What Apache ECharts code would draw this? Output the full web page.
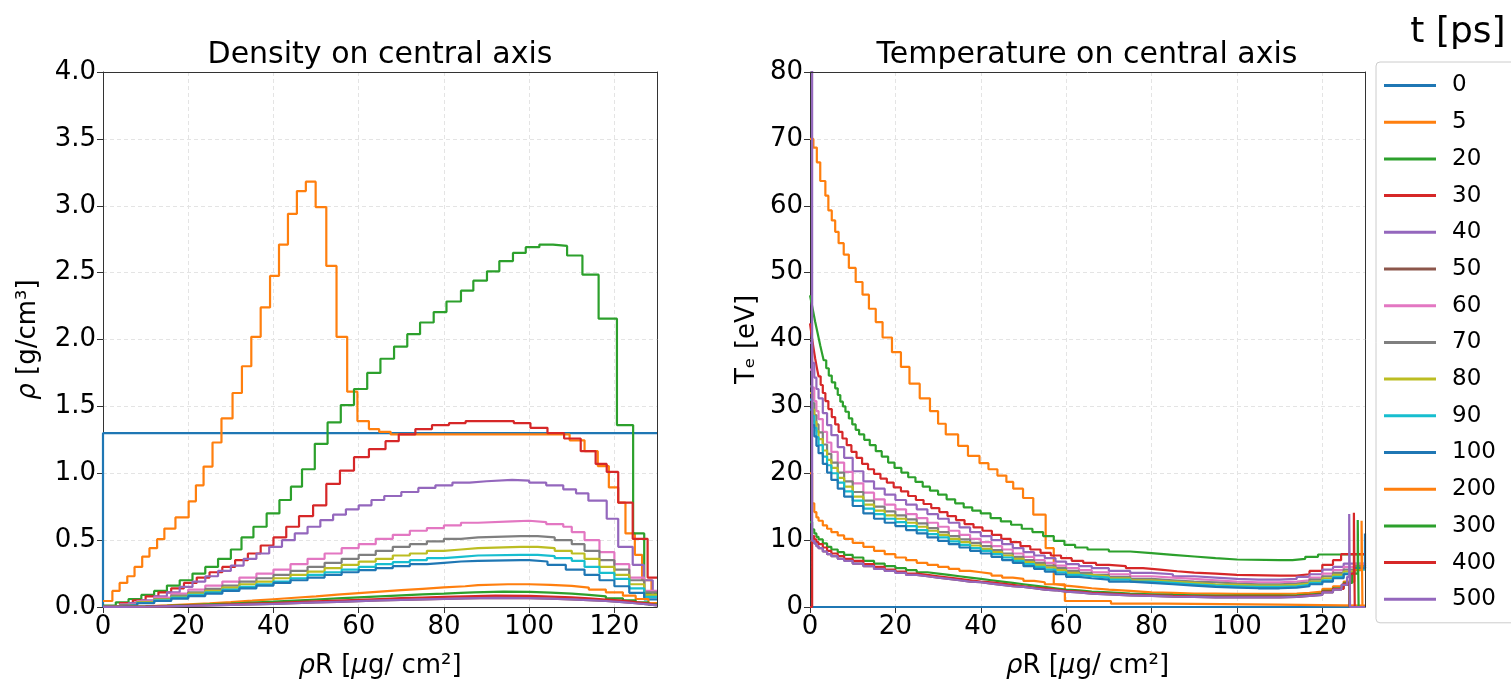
<!DOCTYPE html>
<html><head><meta charset="utf-8">
<script src="https://cdn.jsdelivr.net/npm/echarts@6.0.0/dist/echarts.min.js"></script>
<style>html,body{margin:0;padding:0;background:#fff}#c{width:1511px;height:686px}</style>
</head><body><div id="c"></div><script>
// ---- labels ----
const times = ['0','5','20','30','40','50','60','70','80','90','100','200','300','400','500'];
const xTicks = [0,20,40,60,80,100,120];

// ---- density on central axis: [rhoR, rho] zone start points ----
const rho0 = [[0,0],[0,1.3],[130,1.3]];
const rho5 = [[0,0.045],[2.2,0.12],[3.9,0.18],[5.7,0.23],[7.4,0.30],[9.2,0.377],[10.9,0.44],[12.7,0.507],[14.4,0.586],[17.0,0.67],[20.1,0.79],[21.8,0.91],[23.6,1.05],[25.7,1.23],[27.8,1.41],[30.4,1.60],[32.6,1.80],[34.8,2.02],[37.0,2.24],[39.2,2.475],[41.3,2.71],[43.4,2.94],[45.5,3.11],[47.6,3.18],[49.9,2.99],[52.4,2.55],[54.8,2.02],[57.3,1.61],[59.7,1.39],[62.4,1.33],[64.8,1.31],[67.5,1.29],[109.5,1.246],[113.0,1.165],[116.1,1.054],[118.7,0.894],[120.9,0.78],[122.6,0.55],[124.8,0.39],[126.5,0.2],[128.7,0.08],[130,0.08]];
const rho20 = [[0,0.01],[3,0.035],[6,0.06],[9,0.09],[12,0.12],[15,0.16],[18,0.2],[21,0.25],[24,0.3],[27,0.36],[30,0.43],[32.5,0.52],[35.3,0.6],[38.4,0.7],[41.4,0.8],[44.1,0.9],[46.7,1.03],[49.7,1.22],[52.7,1.38],[55.8,1.51],[58.9,1.63],[62.0,1.75],[65.1,1.856],[68.3,1.947],[71.4,2.04],[74.4,2.127],[77.6,2.205],[80.6,2.284],[84.0,2.365],[86.9,2.44],[90.1,2.51],[93.0,2.586],[96.2,2.647],[99.2,2.69],[102.4,2.71],[105.6,2.70],[108.9,2.628],[112.5,2.485],[116.3,2.156],[120.6,1.36],[124.4,0.55],[127,0.1],[130,0.1]];
const rho30 = [[0,0.005],[4,0.03],[7,0.05],[10,0.08],[13,0.11],[16,0.14],[19,0.18],[22,0.22],[25,0.26],[28,0.3],[31,0.35],[34,0.4],[37,0.46],[40,0.52],[43,0.6],[46,0.68],[49.3,0.76],[52.4,0.92],[55.6,1.02],[58.9,1.12],[62.4,1.18],[66.3,1.24],[69.4,1.29],[73.3,1.33],[77.2,1.36],[81.2,1.375],[85.1,1.39],[96.4,1.375],[100.3,1.34],[104.3,1.30],[108.2,1.26],[112.1,1.165],[115.6,1.07],[118.2,1.01],[120.9,0.78],[124.3,0.51],[127.8,0.22],[130,0.22]];
const rho40 = [[0,0.003],[3,0.015],[6,0.03],[9,0.05],[12,0.08],[15,0.11],[18,0.15],[21,0.19],[24,0.23],[27,0.27],[30,0.31],[33,0.36],[36,0.4],[39,0.45],[42,0.5],[45,0.55],[48,0.6],[51,0.65],[54,0.69],[57,0.73],[60,0.76],[63,0.8],[66,0.83],[70,0.86],[74,0.89],[78,0.91],[82,0.93],[86,0.94],[90,0.95],[96,0.945],[100,0.93],[104,0.91],[108,0.88],[111,0.85],[113.9,0.795],[118.2,0.66],[120.9,0.45],[124.3,0.315],[126.9,0.2],[129,0.08],[130,0.08]];
const rho50 = [[0,0.001],[5,0.002],[10,0.005],[15,0.008],[20,0.012],[25,0.016],[30,0.02],[35,0.024],[40,0.029],[45,0.034],[50,0.039],[55,0.044],[60,0.049],[65,0.053],[70,0.057],[75,0.061],[80,0.064],[85,0.068],[92,0.066],[100,0.062],[105,0.057],[110,0.051],[114,0.045],[118,0.037],[122,0.028],[125,0.02],[128,0.012],[130,0.012]];
const rho60 = [[0,0.002],[4,0.02],[8,0.045],[12,0.07],[16,0.1],[20,0.13],[24,0.16],[28,0.19],[32,0.22],[36,0.25],[40,0.28],[44,0.32],[48,0.36],[52,0.4],[56,0.44],[60,0.47],[64,0.51],[68,0.54],[72,0.57],[76,0.59],[80,0.61],[84,0.63],[88,0.64],[96,0.645],[100,0.635],[104,0.62],[108,0.6],[110,0.56],[113,0.5],[116.5,0.41],[120,0.32],[123.5,0.22],[127,0.12],[130,0.12]];
const rho70 = [[0,0.002],[4,0.017],[8,0.038],[12,0.06],[16,0.085],[20,0.11],[24,0.135],[28,0.16],[32,0.19],[36,0.215],[40,0.24],[44,0.27],[48,0.3],[52,0.33],[56,0.36],[60,0.39],[64,0.42],[68,0.45],[72,0.47],[76,0.49],[80,0.51],[84,0.52],[88,0.53],[98,0.53],[102,0.52],[106,0.5],[110,0.47],[113,0.42],[116.5,0.35],[120,0.28],[123.5,0.2],[127,0.11],[130,0.11]];
const rho80 = [[0,0.002],[4,0.015],[8,0.034],[12,0.055],[16,0.075],[20,0.1],[24,0.12],[28,0.145],[32,0.17],[36,0.19],[40,0.215],[44,0.24],[48,0.265],[52,0.29],[56,0.315],[60,0.34],[64,0.36],[68,0.385],[72,0.4],[76,0.42],[80,0.43],[84,0.44],[88,0.45],[98,0.45],[102,0.44],[106,0.42],[110,0.4],[113,0.36],[116.5,0.3],[120,0.24],[123.5,0.17],[127,0.09],[130,0.09]];
const rho90 = [[0,0.002],[4,0.014],[8,0.03],[12,0.05],[16,0.07],[20,0.09],[24,0.11],[28,0.13],[32,0.15],[36,0.17],[40,0.19],[44,0.215],[48,0.24],[52,0.26],[56,0.28],[60,0.3],[64,0.32],[68,0.335],[72,0.35],[76,0.365],[80,0.375],[84,0.385],[88,0.39],[98,0.39],[102,0.38],[106,0.365],[110,0.345],[113,0.3],[116.5,0.255],[120,0.21],[123.5,0.14],[127,0.075],[130,0.075]];
const rho100 = [[0,0.002],[4,0.013],[8,0.028],[12,0.045],[16,0.063],[20,0.082],[24,0.1],[28,0.12],[32,0.14],[36,0.16],[40,0.18],[44,0.2],[48,0.22],[52,0.24],[56,0.26],[60,0.275],[64,0.29],[68,0.305],[72,0.32],[76,0.33],[80,0.34],[84,0.345],[88,0.35],[98,0.35],[100,0.34],[104.3,0.315],[108.6,0.28],[113,0.24],[116.5,0.2],[120,0.155],[123.5,0.106],[127,0.057],[130,0.057]];
const rho200 = [[0,0.001],[5,0.005],[10,0.012],[15,0.02],[20,0.028],[25,0.037],[30,0.047],[35,0.058],[40,0.069],[45,0.08],[50,0.092],[55,0.104],[60,0.115],[65,0.126],[70,0.136],[75,0.146],[80,0.155],[85,0.163],[88,0.17],[95,0.17],[100,0.165],[105,0.158],[110,0.145],[114,0.13],[118,0.11],[122,0.085],[125,0.06],[128,0.03],[130,0.03]];
const rho300 = [[0,0.001],[5,0.004],[10,0.009],[15,0.014],[20,0.02],[25,0.026],[30,0.033],[35,0.04],[40,0.048],[45,0.056],[50,0.064],[55,0.072],[60,0.08],[65,0.087],[70,0.094],[75,0.1],[80,0.106],[84,0.11],[87,0.115],[94,0.113],[100,0.108],[105,0.1],[110,0.09],[114,0.08],[118,0.065],[122,0.05],[125,0.035],[128,0.02],[130,0.02]];
const rho400 = [[0,0.001],[5,0.003],[10,0.007],[15,0.011],[20,0.015],[25,0.02],[30,0.025],[35,0.03],[40,0.036],[45,0.042],[50,0.048],[55,0.054],[60,0.06],[65,0.066],[70,0.071],[75,0.076],[80,0.08],[85,0.085],[92,0.083],[100,0.078],[105,0.072],[110,0.064],[114,0.056],[118,0.047],[122,0.036],[125,0.026],[128,0.015],[130,0.015]];
const rho500 = [[0,0.001],[5,0.002],[10,0.005],[15,0.008],[20,0.012],[25,0.016],[30,0.02],[35,0.024],[40,0.029],[45,0.034],[50,0.039],[55,0.044],[60,0.049],[65,0.053],[70,0.057],[75,0.061],[80,0.064],[85,0.068],[92,0.066],[100,0.062],[105,0.057],[110,0.051],[114,0.045],[118,0.037],[122,0.028],[125,0.02],[128,0.012],[130,0.012]];

// ---- temperature on central axis ----
const te0 = [[0,0],[130,0]];
const te5 = [[0,70],[0.8,68.7],[1.6,66.5],[2.4,63.7],[3.6,61.5],[4.3,59.3],[5.1,57.8],[5.9,56.1],[6.7,54.4],[7.9,52.7],[9.1,50.7],[10.7,48.6],[12.3,46.7],[13.8,44.6],[15.4,42.6],[17.0,40.3],[19.2,38.1],[21.3,35.9],[23.3,33.4],[25.7,31.2],[28.1,29.3],[30.0,27.4],[31.8,25.8],[34.7,24.1],[37.0,22.6],[39.7,21.5],[41.8,20.6],[43.9,19.65],[46.0,18.7],[47.6,17.7],[49.9,16.3],[52.3,13.8],[55.2,8.8],[57.1,3.4],[59.7,0.9],[70.5,0.5],[83,0.35],[110,0.2],[130,0.2]];
const te20 = [[0,46.6],[0.4,45.3],[0.8,44],[1.2,42.7],[1.6,41.5],[2.0,40.3],[2.4,39.1],[2.8,38],[3.2,36.9],[3.8,35.7],[4.4,34.6],[5.1,33.6],[5.9,32.7],[6.5,31.7],[7.1,30.7],[7.7,30],[8.3,29.2],[9.1,28.2],[9.9,27.3],[10.7,26.5],[11.5,25.8],[12.7,25],[14,24.2],[15.4,23.3],[16.8,22.5],[18.3,21.6],[19.8,20.8],[21.4,20.1],[23,19.4],[24.7,18.7],[26.4,18],[28.1,17.4],[30,16.8],[32,16.1],[34,15.5],[36,14.9],[38,14.4],[40,14.0],[42.3,13.3],[44.7,12.8],[47.1,12.3],[49.6,11.7],[52.1,11.2],[54.6,10.6],[57.1,9.9],[59.6,9.3],[62.1,8.9],[65,8.6],[70,8.3],[75,8.05],[80,7.8],[85,7.55],[90,7.3],[95,7.1],[100,7.0],[110,7.0],[113,7.2],[116,7.5],[119,7.85],[130,7.85]];
const te30 = [[0,42.4],[0.4,40.5],[0.8,38.8],[1.2,37.2],[1.6,35.8],[2.0,34.5],[2.5,33.2],[3.0,32],[3.6,30.8],[4.3,29.6],[5.1,28.4],[5.9,27.3],[6.7,26.2],[7.6,25.2],[8.6,24.2],[9.7,23.2],[10.9,22.3],[12.2,21.4],[13.6,20.6],[15,19.9],[16.5,19.2],[18,18.6],[19.6,17.9],[21.3,17.3],[23,16.6],[24.8,16],[26.6,15.4],[28.4,14.8],[30.3,14.2],[32.2,13.6],[34.2,13],[36.2,12.4],[38.3,11.9],[40.4,11.4],[42.6,10.8],[44.8,10.2],[47,9.7],[49.3,9.1],[51.6,8.6],[54,8.1],[56.4,7.7],[58.8,7.3],[61.3,6.9],[64,6.6],[67,6.3],[70,6.1],[74,5.8],[78,5.6],[82,5.35],[86,5.15],[90,5.0],[95,4.8],[100,4.7],[110,4.7],[114,4.9],[117,5.4],[120,6.3],[122.5,7.0],[124.4,7.9],[130,7.9]];
// shared zone positions for the middle group (40-100 ps)
const TX = [0,0.5,1,1.5,2,3,4,5,6.5,8,10,12.5,15,17.5,20,22.5,25,27.5,30,32.5,35,37.5,40,42.5,45,47.5,50,52.5,55,57.5,60,63,66,70,75,80,85,90,95,100,105,110,114,117,120,122.5,125,127.5,130];
const te40v  = [39.5,36.5,34.3,32.6,31.2,29.0,27.2,25.7,23.9,22.3,20.3,18.8,17.7,16.8,16.0,15.3,14.6,13.9,13.2,12.6,11.9,11.2,10.6,10.0,9.4,8.8,8.2,7.7,7.3,6.8,6.4,6.1,5.8,5.4,5.1,4.9,4.6,4.4,4.2,4.1,4.1,4.2,4.5,4.9,5.6,6.0,6.5,6.5,6.5];
const te60v  = [35.5,32.8,30.8,29.3,28.1,26.2,24.6,23.2,21.6,20.2,18.5,17.1,16.1,15.3,14.6,13.9,13.3,12.6,12.0,11.4,10.8,10.2,9.7,9.1,8.6,8.0,7.5,7.0,6.6,6.2,5.8,5.5,5.2,4.9,4.6,4.4,4.2,4.0,3.8,3.7,3.7,3.8,4.0,4.4,5.0,5.5,6.0,6.4,6.6];
const te70v  = [33.0,30.5,28.7,27.3,26.1,24.3,22.9,21.6,20.1,18.8,17.2,15.9,15.0,14.3,13.7,13.1,12.5,11.8,11.2,10.6,10.1,9.6,9.1,8.5,8.0,7.5,7.0,6.6,6.2,5.8,5.4,5.1,4.8,4.5,4.2,4.0,3.8,3.7,3.5,3.4,3.4,3.5,3.7,4.1,4.6,5.1,5.6,6.1,6.3];
const te80v  = [32.0,29.5,27.7,26.3,25.1,23.4,22.0,20.8,19.3,18.0,16.5,15.3,14.4,13.7,13.2,12.6,12.0,11.4,10.8,10.2,9.7,9.2,8.7,8.2,7.7,7.2,6.7,6.3,5.9,5.5,5.1,4.8,4.6,4.3,4.0,3.8,3.6,3.4,3.3,3.2,3.2,3.3,3.5,3.8,4.3,4.8,5.3,5.8,6.0];
const te90v  = [31.0,28.6,26.8,25.4,24.2,22.5,21.2,20.0,18.6,17.3,15.9,14.7,13.9,13.2,12.7,12.1,11.5,10.9,10.4,9.8,9.3,8.8,8.4,7.9,7.4,6.9,6.4,6.0,5.6,5.2,4.8,4.6,4.4,4.1,3.8,3.6,3.4,3.2,3.1,3.0,3.0,3.1,3.3,3.6,4.0,4.5,5.0,5.6,6.0];
const te100v = [29.5,27.2,25.5,24.1,23.0,21.4,20.1,19.0,17.7,16.5,15.1,14.0,13.2,12.6,12.1,11.5,11.0,10.4,9.9,9.4,8.9,8.4,8.0,7.5,7.0,6.6,6.1,5.7,5.3,4.9,4.5,4.3,4.1,3.8,3.6,3.4,3.2,3.0,2.9,2.8,2.8,2.9,3.1,3.4,3.8,4.3,4.9,5.8,11.0];
// late times (50, 200-500 ps): body on TX up to 122.5, plus outer-edge tails
const te50v  = [9.9,9.9,9.5,9.1,8.8,8.3,7.9,7.6,7.2,6.9,6.5,6.1,5.7,5.4,5.1,4.8,4.6,4.4,4.2,4.0,3.8,3.7,3.5,3.3,3.1,3.0,2.8,2.6,2.5,2.3,2.2,2.0,1.9,1.75,1.65,1.55,1.5,1.45,1.45,1.45,1.45,1.5,1.65,1.8,2.2,2.6];
const te200v = [20.0,15.5,14.2,13.4,12.9,12.2,11.7,11.2,10.7,10.2,9.6,9.0,8.4,7.9,7.4,7.0,6.6,6.3,6.0,5.7,5.4,5.2,5.0,4.7,4.4,4.2,3.9,3.7,3.4,3.2,3.0,2.8,2.6,2.4,2.2,2.1,2.0,2.0,1.95,1.95,1.95,2.0,2.1,2.3,2.7,3.1];
const te300v = [12.7,11.6,11.0,10.5,10.1,9.5,9.0,8.6,8.2,7.8,7.4,6.9,6.5,6.1,5.8,5.5,5.2,5.0,4.8,4.6,4.4,4.2,4.0,3.8,3.6,3.4,3.2,3.0,2.8,2.6,2.5,2.3,2.2,2.0,1.9,1.8,1.75,1.7,1.7,1.7,1.7,1.75,1.85,2.0,2.4,2.8];
const te400v = [0,10.6,10.1,9.7,9.4,8.9,8.4,8.0,7.6,7.2,6.9,6.4,6.0,5.6,5.3,5.0,4.8,4.6,4.4,4.2,4.0,3.8,3.7,3.5,3.3,3.1,2.9,2.8,2.6,2.4,2.3,2.1,2.0,1.85,1.75,1.65,1.6,1.55,1.55,1.55,1.55,1.6,1.75,1.9,2.3,2.7];
const te500v = [95,9.9,9.5,9.1,8.8,8.3,7.9,7.6,7.2,6.9,6.5,6.1,5.7,5.4,5.1,4.8,4.6,4.4,4.2,4.0,3.8,3.7,3.5,3.3,3.1,3.0,2.8,2.6,2.5,2.3,2.2,2.0,1.9,1.75,1.65,1.55,1.5,1.45,1.45,1.45,1.45,1.5,1.65,1.8,2.2,2.6];
const te50tail  = [[124.5,3.3],[126.3,0],[130,0]];
const te200tail = [[125,3.8],[127.5,5.5],[129.2,12.9],[129.4,0],[130,0]];
const te300tail = [[125,3.6],[127,5.0],[128.3,13.0],[128.5,0],[130,0]];
const te400tail = [[125,3.5],[126.5,5.0],[127.4,14.1],[127.6,0],[130,0]];
const te500tail = [[124.5,3.3],[125.8,4.5],[126.3,13.9],[126.5,0],[130,0]];

// ---- styling ----
const palette = ['#1f77b4','#ff7f0e','#2ca02c','#d62728','#9467bd','#8c564b','#e377c2','#7f7f7f','#bcbd22','#17becf','#1f77b4','#ff7f0e','#2ca02c','#d62728','#9467bd'];
const FONT = 'DejaVu Sans';

const zipTX = (vals) => vals.map((v, i) => [TX[i], v]);
const rhoSets = [rho0,rho5,rho20,rho30,rho40,rho50,rho60,rho70,rho80,rho90,rho100,rho200,rho300,rho400,rho500];
const teSets = [te0,te5,te20,te30,zipTX(te40v),zipTX(te50v).concat(te50tail),zipTX(te60v),zipTX(te70v),zipTX(te80v),zipTX(te90v),zipTX(te100v),
  zipTX(te200v).concat(te200tail),zipTX(te300v).concat(te300tail),zipTX(te400v).concat(te400tail),zipTX(te500v).concat(te500tail)];

function mk(name, data, color, gi) {
  return {name, type:'line', step:'end', xAxisIndex:gi, yAxisIndex:gi, data, showSymbol:false, symbol:'none',
    lineStyle:{color, width:2.2}, itemStyle:{color}, silent:true, animation:false, clip:true};
}
const series = [];
times.forEach((t, i) => series.push(mk(t, rhoSets[i], palette[i], 0)));
times.forEach((t, i) => series.push(mk(t, teSets[i], palette[i], 1)));

const TICK_FS = 26, NAME_FS = 26;
const nameStyle = {fontSize:NAME_FS, color:'#000', fontFamily:FONT, rich:{i:{fontStyle:'italic', fontSize:NAME_FS, fontFamily:FONT, color:'#000'}}};
const split = {show:true, lineStyle:{color:'#e4e4e4', type:[4,3], width:1}};
function xAx(gi) {
  return {type:'value', gridIndex:gi, min:0, max:130, interval:20,
    name:'{i|ρ}R [{i|μ}g/ cm²]', nameLocation:'middle', nameGap:46, nameTextStyle:nameStyle,
    axisLine:{show:true, onZero:false, lineStyle:{color:'#333'}},
    axisTick:{show:true, length:6, customValues:xTicks, lineStyle:{color:'#333'}},
    axisLabel:{customValues:xTicks, fontSize:TICK_FS, color:'#000', margin:7, fontFamily:FONT,
      formatter:(v) => (v % 20 === 0 ? String(v) : '')},
    splitLine:split, z:3};
}
function yAx(gi, max, interval, name, gap, fmt) {
  return {type:'value', gridIndex:gi, min:0, max, interval, name, nameLocation:'middle', nameGap:gap, nameTextStyle:nameStyle,
    axisLine:{show:true, onZero:false, lineStyle:{color:'#333'}},
    axisTick:{show:true, length:6, lineStyle:{color:'#333'}},
    axisLabel:{fontSize:TICK_FS, color:'#000', margin:7, fontFamily:FONT, formatter:fmt},
    splitLine:split, z:3};
}
// frame-only axes (top / right edges of each panel)
function frameX(gi) {
  return {type:'value', gridIndex:gi, min:0, max:130, position:'top', axisLine:{show:true, onZero:false, lineStyle:{color:'#333'}},
    axisTick:{show:false}, axisLabel:{show:false}, splitLine:{show:false}, z:4};
}
function frameY(gi, max) {
  return {type:'value', gridIndex:gi, min:0, max, position:'right', axisLine:{show:true, onZero:false, lineStyle:{color:'#333'}},
    axisTick:{show:false}, axisLabel:{show:false}, splitLine:{show:false}, z:4};
}

const option = {
  animation:false,
  backgroundColor:'#fff',
  textStyle:{fontFamily:FONT},
  grid:[
    {left:103, top:72, width:554, height:535, containLabel:false},
    {left:810, top:72, width:555, height:535, containLabel:false}
  ],
  xAxis:[xAx(0), xAx(1), frameX(0), frameX(1)],
  yAxis:[
    yAx(0, 4, 0.5, '{i|ρ} [g/cm³]', 62, (v) => v.toFixed(1)),
    yAx(1, 80, 10, 'Tₑ [eV]', 50, (v) => String(v)),
    frameY(0, 4), frameY(1, 80)
  ],
  legend:{orient:'vertical', left:1376, top:62, data:times, icon:'rect', itemWidth:52, itemHeight:3, itemGap:13.7,
    padding:[12,40,12,8], borderColor:'#ccc', borderWidth:1, borderRadius:4, backgroundColor:'#fff', selectedMode:false,
    textStyle:{fontSize:23, color:'#000', fontFamily:FONT, lineHeight:23, padding:[0,0,0,11]}},
  graphic:[
    {type:'text', x:380, y:55, silent:true, style:{text:'Density on central axis', fontSize:30, fontFamily:FONT, fill:'#000', align:'center', verticalAlign:'middle'}},
    {type:'text', x:1087, y:55, silent:true, style:{text:'Temperature on central axis', fontSize:30, fontFamily:FONT, fill:'#000', align:'center', verticalAlign:'middle'}},
    {type:'text', x:1458, y:33, silent:true, style:{text:'t [ps]', fontSize:36, fontFamily:FONT, fill:'#000', align:'center', verticalAlign:'middle'}}
  ],
  series
};
const chart = echarts.init(document.getElementById('c'), null, {renderer:'canvas'});
chart.setOption(option);
</script></body></html>
